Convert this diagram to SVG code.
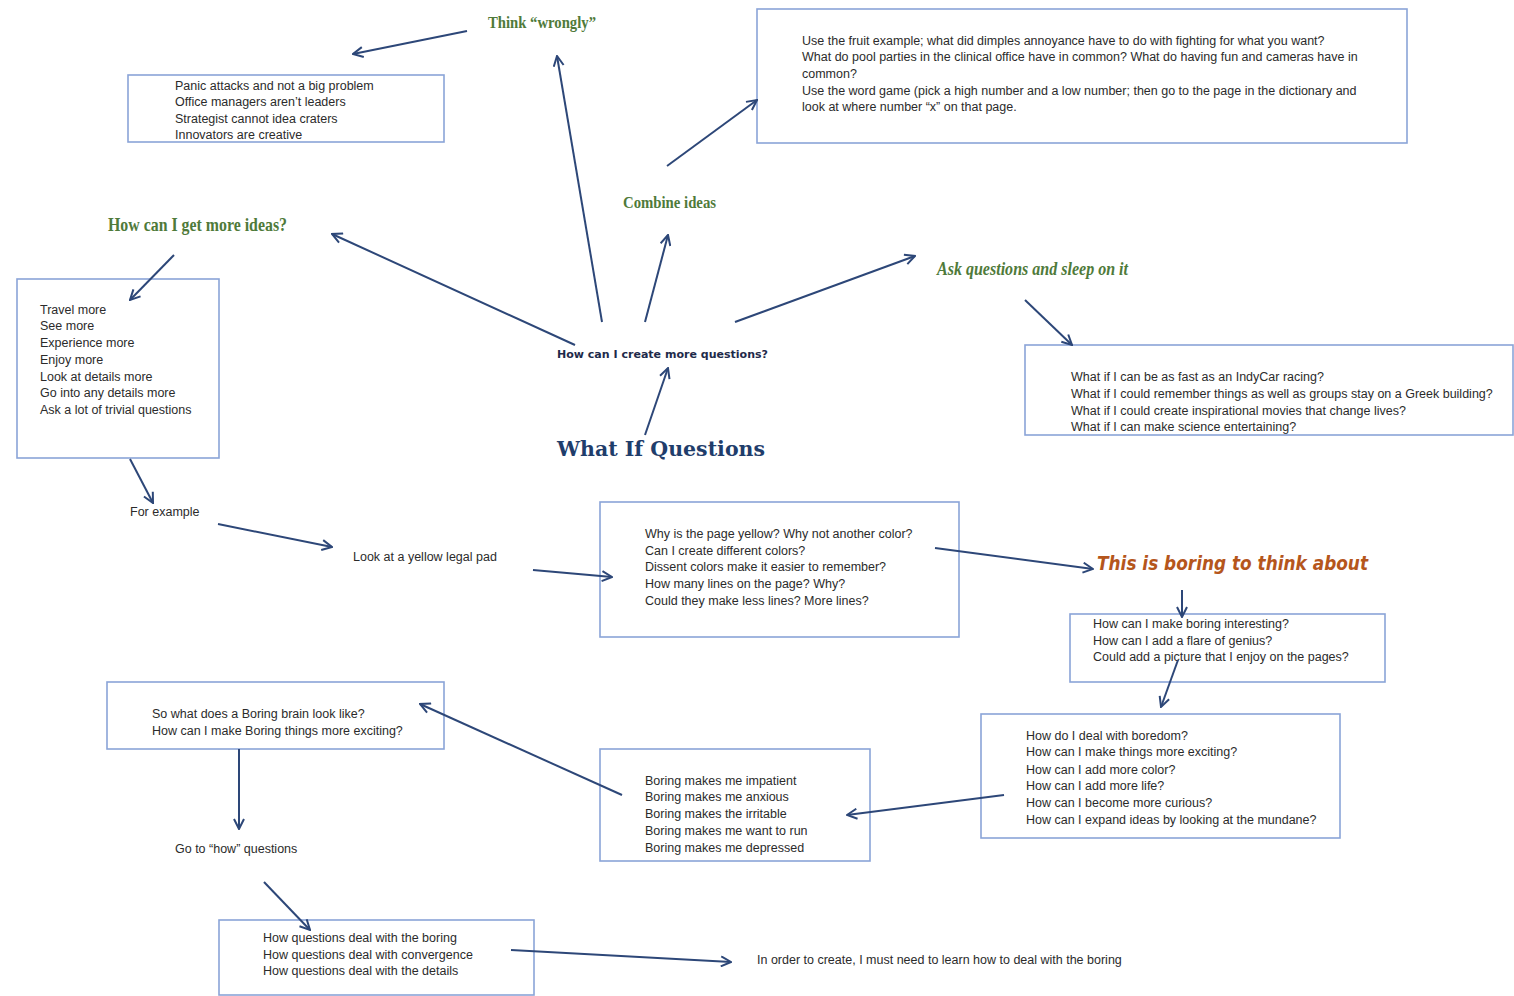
<svg xmlns="http://www.w3.org/2000/svg" width="1514" height="996" viewBox="0 0 1514 996">
<defs>
<marker id="ah" viewBox="0 0 12 12" refX="11" refY="6" markerWidth="12" markerHeight="12" markerUnits="userSpaceOnUse" orient="auto">
<path d="M1,1 L11,6 L1,11" fill="none" stroke="#2d4778" stroke-width="2"/>
</marker>
<style>
.box{fill:#ffffff;stroke:#8aa4d8;stroke-width:1.6}
.t{font-family:"Liberation Sans",Arial,sans-serif;font-size:12.5px;fill:#2b2b2b}
.g{font-family:"Liberation Serif","DejaVu Serif",serif;font-weight:bold;fill:#4f7a3a}
.c{stroke:#2d4778;stroke-width:2;fill:none;marker-end:url(#ah)}
</style>
</defs>
<rect width="1514" height="996" fill="#ffffff"/>

<g id="think-wrongly">
<text class="g" x="488" y="28" font-size="17" textLength="108" lengthAdjust="spacingAndGlyphs">Think “wrongly”</text>
</g>

<g id="box-wrongly">
<rect class="box" x="128" y="75" width="316" height="67"/>
<text class="t" x="175" y="90">Panic attacks and not a big problem</text>
<text class="t" x="175" y="106">Office managers aren’t leaders</text>
<text class="t" x="175" y="123">Strategist cannot idea craters</text>
<text class="t" x="175" y="139">Innovators are creative</text>
</g>

<g id="box-combine">
<rect class="box" x="757" y="9" width="650" height="134"/>
<text class="t" x="802" y="45">Use the fruit example; what did dimples annoyance have to do with fighting for what you want?</text>
<text class="t" x="802" y="61">What do pool parties in the clinical office have in common? What do having fun and cameras have in</text>
<text class="t" x="802" y="78">common?</text>
<text class="t" x="802" y="95">Use the word game (pick a high number and a low number; then go to the page in the dictionary and</text>
<text class="t" x="802" y="111">look at where number “x” on that page.</text>
</g>

<g id="combine-ideas">
<text class="g" x="623" y="208" font-size="16" textLength="93" lengthAdjust="spacingAndGlyphs">Combine ideas</text>
</g>

<g id="more-ideas">
<text class="g" x="108" y="231" font-size="19" textLength="179" lengthAdjust="spacingAndGlyphs">How can I get more ideas?</text>
</g>

<g id="box-ideas">
<rect class="box" x="17" y="279" width="202" height="179"/>
<text class="t" x="40" y="314">Travel more</text>
<text class="t" x="40" y="330">See more</text>
<text class="t" x="40" y="347">Experience more</text>
<text class="t" x="40" y="364">Enjoy more</text>
<text class="t" x="40" y="381">Look at details more</text>
<text class="t" x="40" y="397">Go into any details more</text>
<text class="t" x="40" y="414">Ask a lot of trivial questions</text>
</g>

<g id="ask-questions">
<text class="g" x="937" y="275" font-size="18" font-style="italic" textLength="191" lengthAdjust="spacingAndGlyphs">Ask questions and sleep on it</text>
</g>

<g id="box-whatif">
<rect class="box" x="1025" y="345" width="488" height="90"/>
<text class="t" x="1071" y="381">What if I can be as fast as an IndyCar racing?</text>
<text class="t" x="1071" y="398">What if I could remember things as well as groups stay on a Greek building?</text>
<text class="t" x="1071" y="415">What if I could create inspirational movies that change lives?</text>
<text class="t" x="1071" y="431">What if I can make science entertaining?</text>
</g>

<g id="create-questions">
<text x="557" y="358" font-family="'DejaVu Sans',sans-serif" font-size="10" font-weight="bold" fill="#1e2a4a" textLength="211" lengthAdjust="spacingAndGlyphs">How can I create more questions?</text>
</g>

<g id="what-if">
<text x="557" y="456" font-family="'DejaVu Serif','Liberation Serif',serif" font-size="20" font-weight="bold" fill="#1f3d6b" textLength="208" lengthAdjust="spacingAndGlyphs">What If Questions</text>
</g>

<g id="for-example">
<text class="t" x="130" y="516">For example</text>
</g>

<g id="yellow-pad">
<text class="t" x="353" y="561">Look at a yellow legal pad</text>
</g>

<g id="box-yellow">
<rect class="box" x="600" y="502" width="359" height="135"/>
<text class="t" x="645" y="538">Why is the page yellow? Why not another color?</text>
<text class="t" x="645" y="555">Can I create different colors?</text>
<text class="t" x="645" y="571">Dissent colors make it easier to remember?</text>
<text class="t" x="645" y="588">How many lines on the page? Why?</text>
<text class="t" x="645" y="605">Could they make less lines? More lines?</text>
</g>

<g id="boring-title">
<text x="1097" y="570" font-family="'DejaVu Sans','Liberation Sans',sans-serif" font-size="20" font-weight="bold" font-style="italic" fill="#b5561c" textLength="271" lengthAdjust="spacingAndGlyphs">This is boring to think about</text>
</g>

<g id="box-boring-interesting">
<rect class="box" x="1070" y="614" width="315" height="68"/>
<text class="t" x="1093" y="628">How can I  make boring interesting?</text>
<text class="t" x="1093" y="645">How can I add a flare of genius?</text>
<text class="t" x="1093" y="661">Could add a picture that I enjoy on the pages?</text>
</g>

<g id="box-boredom">
<rect class="box" x="981" y="714" width="359" height="124"/>
<text class="t" x="1026" y="740">How do I deal with boredom?</text>
<text class="t" x="1026" y="756">How can I make things more exciting?</text>
<text class="t" x="1026" y="774">How can I add more color?</text>
<text class="t" x="1026" y="790">How can I add more life?</text>
<text class="t" x="1026" y="807">How can I become more curious?</text>
<text class="t" x="1026" y="824">How can I expand ideas by looking at the mundane?</text>
</g>

<g id="box-boring-makes">
<rect class="box" x="600" y="749" width="270" height="112"/>
<text class="t" x="645" y="785">Boring makes me impatient</text>
<text class="t" x="645" y="801">Boring makes me anxious</text>
<text class="t" x="645" y="818">Boring makes the irritable</text>
<text class="t" x="645" y="835">Boring makes me want to run</text>
<text class="t" x="645" y="852">Boring makes me depressed</text>
</g>

<g id="box-boring-brain">
<rect class="box" x="107" y="682" width="337" height="67"/>
<text class="t" x="152" y="718">So what does a Boring brain look like?</text>
<text class="t" x="152" y="735">How can I make Boring things more exciting?</text>
</g>

<g id="how-questions">
<text class="t" x="175" y="853">Go to “how” questions</text>
</g>

<g id="box-how">
<rect class="box" x="219" y="920" width="315" height="75"/>
<text class="t" x="263" y="942">How questions deal with the boring</text>
<text class="t" x="263" y="959">How questions deal with convergence</text>
<text class="t" x="263" y="975">How questions deal with the details</text>
</g>

<g id="conclusion">
<text class="t" x="757" y="964">In order to create, I must need to learn how to deal with the boring</text>
</g>

<g id="connectors">
<line class="c" x1="467" y1="31" x2="353" y2="54"/>
<line class="c" x1="602" y1="322" x2="557" y2="56"/>
<line class="c" x1="667" y1="166" x2="757" y2="100"/>
<line class="c" x1="645" y1="322" x2="668" y2="235"/>
<line class="c" x1="575" y1="345" x2="332" y2="234"/>
<line class="c" x1="174" y1="255" x2="130" y2="300"/>
<line class="c" x1="735" y1="322" x2="915" y2="256"/>
<line class="c" x1="1025" y1="300" x2="1072" y2="345"/>
<line class="c" x1="645" y1="435" x2="668" y2="368"/>
<line class="c" x1="130" y1="459" x2="153" y2="503"/>
<line class="c" x1="218" y1="524" x2="332" y2="547"/>
<line class="c" x1="533" y1="570" x2="612" y2="577"/>
<line class="c" x1="935" y1="548" x2="1093" y2="569"/>
<line class="c" x1="1182" y1="590" x2="1182" y2="617"/>
<line class="c" x1="1178" y1="660" x2="1161" y2="707"/>
<line class="c" x1="1004" y1="795" x2="847" y2="815"/>
<line class="c" x1="622" y1="795" x2="420" y2="704"/>
<line class="c" x1="239" y1="749" x2="239" y2="829"/>
<line class="c" x1="264" y1="882" x2="310" y2="930"/>
<line class="c" x1="511" y1="950" x2="731" y2="962"/>
</g>
</svg>
